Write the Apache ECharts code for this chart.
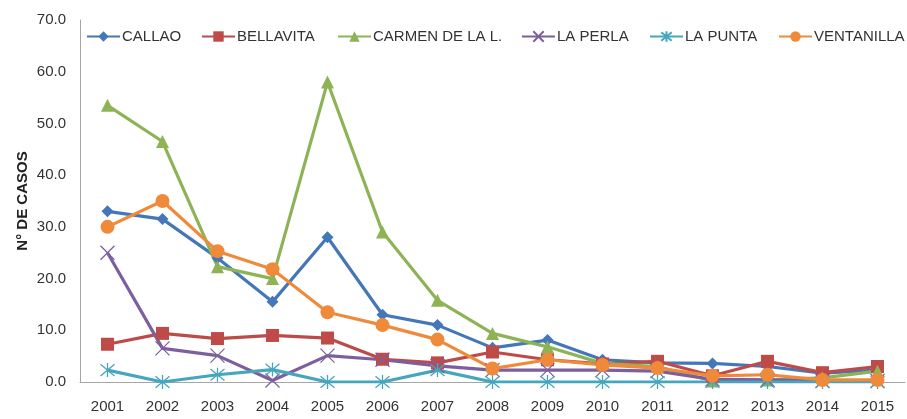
<!DOCTYPE html>
<html>
<head>
<meta charset="utf-8">
<script src="https://cdn.jsdelivr.net/npm/echarts@6/dist/echarts.min.js"></script>
<style>html,body{margin:0;padding:0;background:#fff}#c{width:907px;height:419px}</style>
</head>
<body>
<div id="c"></div>
<script>
var years = ['2001','2002','2003','2004','2005','2006','2007','2008','2009','2010','2011','2012','2013','2014','2015'];
var callao     = [33.0, 31.5, 24.0, 15.5, 28.0, 13.0, 11.0, 6.6, 8.1, 4.3, 3.7, 3.6, 3.0, 1.7, 2.3];
var bellavita  = [7.3, 9.4, 8.4, 9.0, 8.5, 4.4, 3.7, 5.8, 4.3, 3.5, 4.0, 1.2, 4.0, 1.8, 3.0];
var carmen     = [53.5, 46.5, 22.3, 20.0, 58.0, 29.0, 15.8, 9.4, 6.8, 3.6, 3.0, 0.2, 0.4, 0.8, 2.1];
var laPerla    = [25.0, 6.5, 5.1, 0.3, 5.1, 4.3, 3.1, 2.3, 2.3, 2.3, 2.1, 0.5, 0.4, 0.2, 0.2];
var laPunta    = [2.3, 0.0, 1.4, 2.4, 0.0, 0.0, 2.3, 0.0, 0.0, 0.0, 0.0, 0.0, 0.0, 0.0, 0.0];
var ventanilla = [30.0, 35.0, 25.3, 21.8, 13.5, 11.0, 8.2, 2.6, 4.3, 3.3, 2.7, 1.2, 1.4, 0.4, 0.4];
var seriesNames = ['CALLAO','BELLAVITA','CARMEN DE LA L.','LA PERLA','LA PUNTA','VENTANILLA'];

var colors = ['#4476BA','#BE4B48','#8DB356','#7D5FA0','#46A6BE','#F08A3B'];
var font = 'Liberation Sans, Arial, sans-serif';
var legendLeft = [86, 201, 337, 521, 649, 778];

function mk(name, data, color, symbol, size, stroke) {
  var s = {
    name: name, type: 'line', data: data,
    symbol: symbol, symbolSize: size,
    lineStyle: { color: color, width: 3.2 },
    itemStyle: { color: color },
    emphasis: { disabled: true },
    z: 2
  };
  if (stroke) {
    s.itemStyle = { color: 'rgba(0,0,0,0)', borderColor: color, borderWidth: 1.3 };
  }
  return s;
}

var legends = seriesNames.map(function (n, i) {
  return {
    left: legendLeft[i], top: 29, itemWidth: 33, itemHeight: 13, padding: 0,
    textStyle: { fontFamily: font, fontSize: 15, color: '#333', padding: [0, 0, 0, -3] },
    data: [n]
  };
});

var chart = echarts.init(document.getElementById('c'));
chart.setOption({
  animation: false,
  backgroundColor: '#fff',
  grid: { left: 80, right: 2, top: 20, bottom: 37 },
  legend: legends,
  xAxis: {
    type: 'category', data: years, boundaryGap: true,
    axisLine: { lineStyle: { color: '#A6A6A6', width: 1 } },
    axisTick: { show: false },
    axisLabel: { fontFamily: font, fontSize: 15, color: '#333', margin: 17 }
  },
  yAxis: {
    type: 'value', min: 0, max: 70, interval: 10,
    name: 'N° DE CASOS', nameLocation: 'middle', nameGap: 50, nameMoveOverlap: false,
    nameTextStyle: { fontFamily: font, fontSize: 15, fontWeight: 'bold', color: '#222' },
    axisLine: { show: true, lineStyle: { color: '#A6A6A6', width: 1 } },
    axisTick: { show: false },
    splitLine: { show: false },
    axisLabel: { fontFamily: font, fontSize: 15, color: '#333', margin: 14,
      formatter: function (v) { return v.toFixed(1); } }
  },
  series: [
    mk(seriesNames[0], callao, colors[0], 'diamond', 12),
    mk(seriesNames[1], bellavita, colors[1], 'rect', 13),
    mk(seriesNames[2], carmen, colors[2], 'triangle', 13),
    mk(seriesNames[3], laPerla, colors[3], 'path://M0,0L10,10M10,0L0,10', 14, true),
    mk(seriesNames[4], laPunta, colors[4], 'path://M0,0L10,10M10,0L0,10M5,-1L5,11', 14, true),
    mk(seriesNames[5], ventanilla, colors[5], 'circle', 14)
  ]
});
</script>
</body>
</html>
